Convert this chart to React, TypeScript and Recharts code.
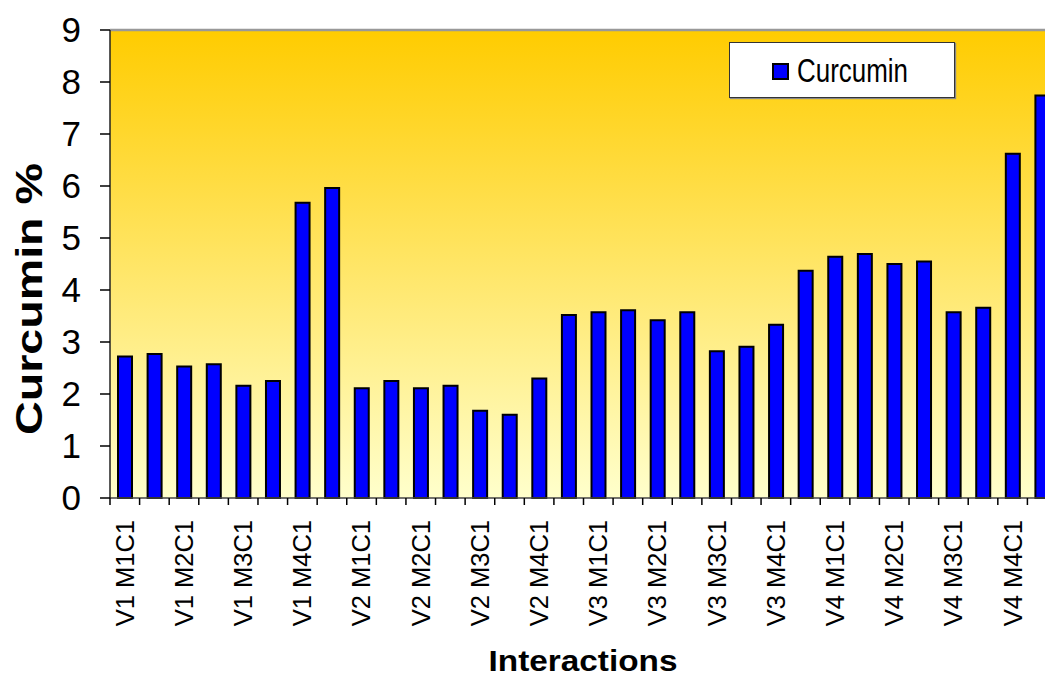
import React from "react";
import { BarChart, Bar, XAxis, YAxis, CartesianGrid, ReferenceLine, Legend } from "recharts";

const categories = [
  "V1 M1C1", "V1 M1C2", "V1 M2C1", "V1 M2C2", "V1 M3C1", "V1 M3C2", "V1 M4C1", "V1 M4C2",
  "V2 M1C1", "V2 M1C2", "V2 M2C1", "V2 M2C2", "V2 M3C1", "V2 M3C2", "V2 M4C1", "V2 M4C2",
  "V3 M1C1", "V3 M1C2", "V3 M2C1", "V3 M2C2", "V3 M3C1", "V3 M3C2", "V3 M4C1", "V3 M4C2",
  "V4 M1C1", "V4 M1C2", "V4 M2C1", "V4 M2C2", "V4 M3C1", "V4 M3C2", "V4 M4C1", "V4 M4C2",
];

const curcumin = [
  2.72, 2.77, 2.53, 2.57, 2.16, 2.25, 5.68, 5.96,
  2.11, 2.25, 2.11, 2.16, 1.68, 1.6, 2.3, 3.52,
  3.57, 3.61, 3.42, 3.57, 2.82, 2.91, 3.33, 4.37,
  4.64, 4.69, 4.5, 4.55, 3.57, 3.66, 6.62, 7.74,
];

const yTicks = [0, 1, 2, 3, 4, 5, 6, 7, 8, 9];

const data = categories.map((name, i) => ({ name, curcumin: curcumin[i] }));

const CHART_W = 1060;
const CHART_H = 679;
const Y_W = 110;
const M_RIGHT = 3;
const BAND = (CHART_W - Y_W - M_RIGHT) / categories.length;

function XTick(props: any) {
  const { x, y, payload, index } = props;
  const ty = y + 22;
  return (
    <g>
      <line x1={x - BAND / 2} x2={x - BAND / 2} y1={y} y2={y + 7} stroke="#000" strokeWidth={1.5} />
      {index % 2 === 0 && (
        <text
          x={x}
          y={ty}
          dy="0.35em"
          transform={`rotate(-90, ${x}, ${ty})`}
          textAnchor="end"
          fontSize={25.5}
          fill="#000"
        >
          {payload.value}
        </text>
      )}
    </g>
  );
}

function LegendBox() {
  return (
    <div
      style={{
        width: 224,
        height: 54,
        background: "#fff",
        border: "1px solid #333",
        boxShadow: "1px 1px 1px #888",
      }}
    >
      <svg width={224} height={54}>
        <rect x={43} y={21} width={15} height={15} fill="#0000FF" stroke="#000" strokeWidth={2} />
        <text x={67} y={39} fontSize={33} fill="#000" textLength={111} lengthAdjust="spacingAndGlyphs">
          Curcumin
        </text>
      </svg>
    </div>
  );
}

export default function App() {
  return (
    <div
      style={{
        position: "fixed",
        left: 0,
        top: 0,
        width: 1045,
        height: 679,
        overflow: "hidden",
        background: "#fff",
        fontFamily: "'Liberation Sans', Arial, sans-serif",
      }}
    >
      <BarChart
        width={CHART_W}
        height={CHART_H}
        data={data}
        margin={{ top: 30, right: M_RIGHT, left: 0, bottom: 0 }}
        barCategoryGap={0}
      >
        <defs>
          <linearGradient id="plotBg" x1="0" y1="0" x2="0" y2="1">
            <stop offset="0" stopColor="#FFCC00" />
            <stop offset="1" stopColor="#FFFFCC" />
          </linearGradient>
        </defs>
        <CartesianGrid horizontal={false} vertical={false} fill="url(#plotBg)" />
        <ReferenceLine y={9} stroke="#999" strokeWidth={2.5} />
        <XAxis
          dataKey="name"
          interval={0}
          height={CHART_H - 30 - 468}
          tickSize={0}
          tickMargin={0}
          tickLine={false}
          axisLine={{ stroke: "#444", strokeWidth: 1.5 }}
          tick={<XTick />}
          label={{
            content: () => (
              <text
                x={583}
                y={671}
                textAnchor="middle"
                fontSize={29}
                fontWeight="bold"
                fill="#000"
                textLength={189}
                lengthAdjust="spacingAndGlyphs"
              >
                Interactions
              </text>
            ),
          }}
        />
        <YAxis
          domain={[0, 9]}
          ticks={yTicks}
          interval={0}
          width={Y_W}
          tickSize={10}
          tickMargin={19}
          tick={{ fontSize: 35, fill: "#000" }}
          tickLine={{ stroke: "#000", strokeWidth: 1.5 }}
          axisLine={{ stroke: "#222", strokeWidth: 1.5 }}
          label={{
            content: () => (
              <text
                x={42}
                y={299}
                transform="rotate(-90, 42, 299)"
                textAnchor="middle"
                fontSize={37}
                fontWeight="bold"
                fill="#000"
                textLength={272}
                lengthAdjust="spacingAndGlyphs"
              >
                Curcumin %
              </text>
            ),
          }}
        />
        <Legend
          layout="vertical"
          align="center"
          verticalAlign="middle"
          content={() => <LegendBox />}
          wrapperStyle={{ left: 729, top: 42, width: 226, height: 56 }}
        />
        <Bar
          dataKey="curcumin"
          name="Curcumin"
          fill="#0000FF"
          stroke="#000"
          strokeWidth={2}
          barSize={14}
          isAnimationActive={false}
        />
      </BarChart>
    </div>
  );
}
